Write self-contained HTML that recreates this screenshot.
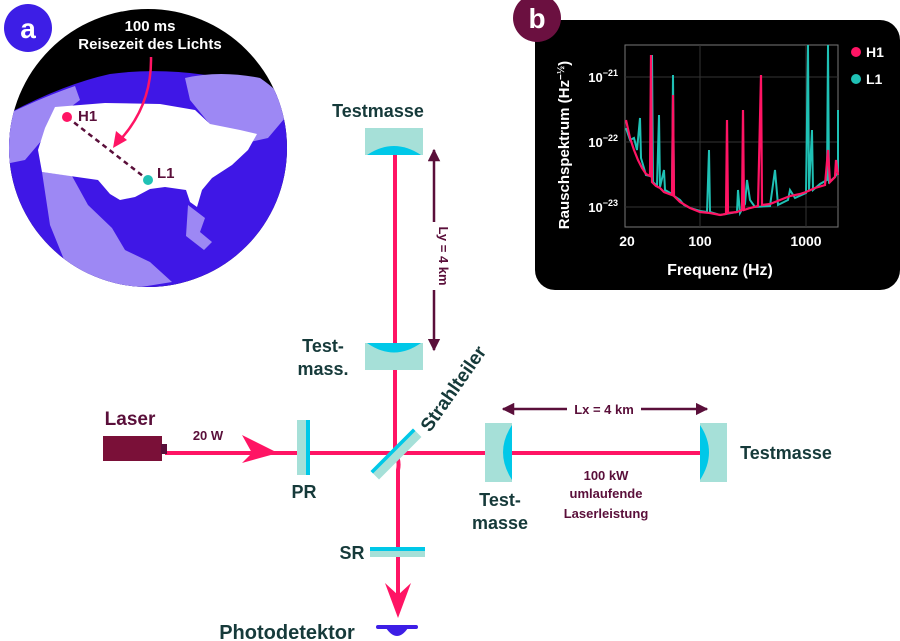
<!DOCTYPE html>
<html><head><meta charset="utf-8"><style>
html,body{margin:0;padding:0;background:#fff;}
svg{display:block;font-family:"Liberation Sans",sans-serif;font-weight:bold;}
</style></head><body>
<svg width="900" height="641" viewBox="0 0 900 641" xmlns="http://www.w3.org/2000/svg">
<defs>
<clipPath id="gc"><circle cx="148" cy="148" r="139"/></clipPath>
<marker id="ma" viewBox="0 0 10 10" refX="9" refY="5" markerWidth="5" markerHeight="5" orient="auto-start-reverse"><path d="M0,0 L10,5 L0,10 z" fill="#5a0f3a"/></marker>
</defs>
<!-- Globe -->
<g clip-path="url(#gc)">
<rect x="0" y="0" width="300" height="300" fill="#000"/>
<path d="M0,118 Q60,85 110,74 Q200,62 300,100 L300,300 L0,300 z" fill="#3f17e6"/>
<path d="M185,78 Q220,70 260,78 Q285,95 290,112 L268,138 L250,142 L218,138 L208,122 L190,100 z" fill="#9d88f4"/>
<path d="M0,118 Q40,98 75,86 L80,100 L60,115 L42,140 L25,160 L0,165 z" fill="#9d88f4"/>
<path d="M42,172 L72,176 L88,205 L112,228 L125,250 L150,262 L172,282 L110,292 L65,262 L50,225 z" fill="#9d88f4"/>
<path d="M188,205 L205,218 L200,232 L212,242 L204,250 L186,236 z" fill="#9d88f4"/>
<path d="M55,107 L105,103 L160,104 L195,110 L210,124 L240,130 L257,134 L248,150 L232,165 L212,178 L202,190 L197,207 L190,202 L186,190 L165,187 L150,189 L135,197 L120,200 L110,194 L98,180 L70,176 L42,172 L38,150 L45,128 z" fill="#fff"/>
</g>
<circle cx="28" cy="28" r="24" fill="#3d1ee6"/>
<text x="28" y="38" text-anchor="middle" font-size="28" fill="#fff">a</text>
<text x="150" y="31" text-anchor="middle" font-size="15" fill="#fff">100 ms</text>
<text x="150" y="49" text-anchor="middle" font-size="15" fill="#fff">Reisezeit des Lichts</text>
<path d="M151,57 Q152,105 120,140" fill="none" stroke="#ff1464" stroke-width="2.5"/>
<path d="M113,148 L116,131 L127,140 z" fill="#ff1464"/>
<line x1="67" y1="117" x2="148" y2="180" stroke="#5a0f3a" stroke-width="2.5" stroke-dasharray="5,4"/>
<circle cx="67" cy="117" r="5" fill="#ff1464"/>
<circle cx="148" cy="180" r="5" fill="#1fc1b5"/>
<text x="78" y="121" font-size="15" fill="#5a0f3a">H1</text>
<text x="157" y="178" font-size="15" fill="#5a0f3a">L1</text>

<!-- Plot panel -->
<rect x="535" y="20" width="365" height="270" rx="20" fill="#000"/>
<circle cx="537" cy="18" r="24" fill="#6b1040"/>
<text x="537" y="28" text-anchor="middle" font-size="28" fill="#fff">b</text>
<rect x="625" y="45" width="213" height="182" fill="none" stroke="#777" stroke-width="1"/>
<g stroke="#333" stroke-width="1">
<line x1="625" y1="77" x2="838" y2="77"/><line x1="625" y1="142" x2="838" y2="142"/><line x1="625" y1="207" x2="838" y2="207"/>
<line x1="700" y1="45" x2="700" y2="227"/><line x1="806" y1="45" x2="806" y2="227"/>
</g>
<g font-size="13" fill="#fff" font-weight="bold">
<text x="618" y="82" text-anchor="end">10<tspan dy="-6" font-size="9">−21</tspan></text>
<text x="618" y="147" text-anchor="end">10<tspan dy="-6" font-size="9">−22</tspan></text>
<text x="618" y="212" text-anchor="end">10<tspan dy="-6" font-size="9">−23</tspan></text>
<text x="627" y="246" text-anchor="middle" font-size="14">20</text>
<text x="700" y="246" text-anchor="middle" font-size="14">100</text>
<text x="806" y="246" text-anchor="middle" font-size="14">1000</text>
</g>
<text x="720" y="275" text-anchor="middle" font-size="16" fill="#fff">Frequenz (Hz)</text>
<text transform="translate(569,145) rotate(-90)" text-anchor="middle" font-size="15" fill="#fff">Rauschspektrum (Hz<tspan dy="-5" font-size="10">−½</tspan><tspan dy="5">)</tspan></text>
<polyline fill="none" stroke="#1fc1b5" stroke-width="2" points="626,128 630,140 634,138 637,150 640,118 641,158 646,175 650,176 652,55 653,182 657,186 659,115 660,187 664,170 665,190 672,194 673,75 674,196 680,200 684,205 690,208 700,211 707,212 709,150 710,212 720,215 737,212 738,190 740,213 745,204 747,180 750,200 755,207 770,206 775,170 778,205 788,200 790,190 795,198 806,193 808,45 809,190 812,130 813,190 820,184 827,180 828,45 829,182 835,177 838,172 838,110"/>
<polyline fill="none" stroke="#ff1464" stroke-width="2.2" points="626,120 630,138 634,150 638,160 642,168 646,174 650,176 651,55 652,182 656,186 660,188 664,192 672,195 673,95 674,196 680,202 690,208 700,212 710,213 720,215 726,214 727,120 728,213 737,212 742,210 743,110 744,210 750,208 758,206 761,75 762,205 770,204 780,200 790,196 800,194 806,192 815,188 825,185 828,150 830,182 835,177 836,160 838,175"/>
<circle cx="856" cy="52" r="5" fill="#ff1464"/><text x="866" y="57" font-size="14" fill="#fff">H1</text>
<circle cx="856" cy="79" r="5" fill="#1fc1b5"/><text x="866" y="84" font-size="14" fill="#fff">L1</text>

<!-- Interferometer -->
<line x1="395" y1="155" x2="395" y2="455" stroke="#ff1464" stroke-width="4"/>
<line x1="165" y1="453" x2="700" y2="453" stroke="#ff1464" stroke-width="4"/>
<path d="M395,453 Q400,460 398,470 L398,600" fill="none" stroke="#ff1464" stroke-width="4"/>
<rect x="365" y="128" width="58" height="27" fill="#a6e0d8"/>
<path d="M367,155 Q394,137 421,155 z" fill="#00c8e8"/>
<text x="378" y="117" text-anchor="middle" font-size="18" fill="#163a3a">Testmasse</text>
<rect x="365" y="343" width="58" height="27" fill="#a6e0d8"/>
<path d="M367,343 Q394,362 421,343 z" fill="#00c8e8"/>
<text x="323" y="352" text-anchor="middle" font-size="18" fill="#163a3a">Test-</text>
<text x="323" y="375" text-anchor="middle" font-size="18" fill="#163a3a">mass.</text>
<line x1="434" y1="150" x2="434" y2="350" stroke="#5a0f3a" stroke-width="2.5" marker-start="url(#ma)" marker-end="url(#ma)"/>
<rect x="426" y="222" width="16" height="68" fill="#fff"/>
<text transform="translate(439,256) rotate(90)" text-anchor="middle" font-size="13" fill="#5a0f3a">Ly = 4 km</text>
<rect x="297" y="420" width="11" height="55" fill="#a6e0d8"/>
<rect x="306" y="420" width="4" height="55" fill="#00c8e8"/>
<text x="304" y="498" text-anchor="middle" font-size="18" fill="#163a3a">PR</text>
<g transform="translate(396,454) rotate(-45)">
<rect x="-30" y="-6" width="60" height="12" fill="#a6e0d8"/>
<rect x="-30" y="-6" width="60" height="3.5" fill="#00c8e8"/>
</g>
<text transform="translate(430,433) rotate(-55)" font-size="19" fill="#163a3a">Strahlteiler</text>
<rect x="485" y="423" width="27" height="59" fill="#a6e0d8"/>
<path d="M512,425 Q494,452 512,480 z" fill="#00c8e8"/>
<text x="500" y="506" text-anchor="middle" font-size="18" fill="#163a3a">Test-</text>
<text x="500" y="529" text-anchor="middle" font-size="18" fill="#163a3a">masse</text>
<rect x="700" y="423" width="27" height="59" fill="#a6e0d8"/>
<path d="M700,425 Q718,452 700,480 z" fill="#00c8e8"/>
<text x="786" y="459" text-anchor="middle" font-size="18" fill="#163a3a">Testmasse</text>
<line x1="503" y1="409" x2="707" y2="409" stroke="#5a0f3a" stroke-width="2.5" marker-start="url(#ma)" marker-end="url(#ma)"/>
<rect x="567" y="400" width="74" height="18" fill="#fff"/>
<text x="604" y="414" text-anchor="middle" font-size="13" fill="#5a0f3a">Lx = 4 km</text>
<text x="606" y="480" text-anchor="middle" font-size="13" fill="#5a0f3a">100 kW</text>
<text x="606" y="498" text-anchor="middle" font-size="13" fill="#5a0f3a">umlaufende</text>
<text x="606" y="518" text-anchor="middle" font-size="13" fill="#5a0f3a">Laserleistung</text>
<rect x="103" y="436" width="59" height="25" fill="#7a1038"/>
<rect x="161" y="444" width="6" height="10" fill="#5a0f3a"/>
<text x="130" y="425" text-anchor="middle" font-size="19" fill="#5a0f3a">Laser</text>
<text x="208" y="440" text-anchor="middle" font-size="13" fill="#5a0f3a">20 W</text>
<path d="M242,435 L278,453 L242,463 L252,453 z" fill="#ff1464"/>
<rect x="370" y="547" width="55" height="4" fill="#00c8e8"/>
<rect x="370" y="551" width="55" height="6" fill="#a6e0d8"/>
<text x="352" y="559" text-anchor="middle" font-size="18" fill="#163a3a">SR</text>
<path d="M385,583 L398,618 L411,583 L398,595 z" fill="#ff1464"/>
<rect x="376" y="625" width="42" height="4" rx="2" fill="#3d1ee6"/>
<path d="M386,628 Q397,644 408,628 z" fill="#3d1ee6"/>
<text x="287" y="639" text-anchor="middle" font-size="20" fill="#163a3a">Photodetektor</text>
</svg>
</body></html>
